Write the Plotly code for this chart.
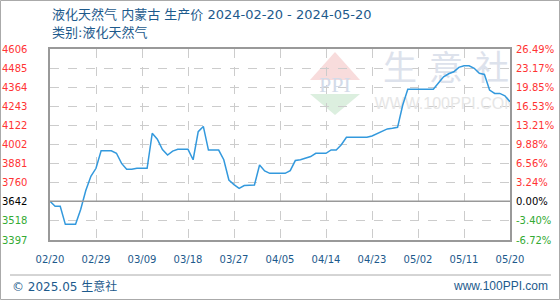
import pandas as pd
import numpy as np
import plotly.graph_objects as go

# ---------------- data ----------------
start_date = "2024-02-20"
end_date = "2024-05-20"
prices = [
    3642, 3610, 3610, 3496, 3496, 3496, 3590, 3710, 3800, 3851,
    3962, 3962, 3962, 3946, 3882, 3845, 3845, 3851, 3851, 3851,
    4072, 4035, 3970, 3935, 3960, 3971, 3971, 3971, 3905, 4083,
    4116, 3966, 3966, 3966, 3905, 3777, 3748, 3724, 3742, 3745,
    3745, 3872, 3834, 3819, 3819, 3819, 3819, 3836, 3900, 3905,
    3914, 3925, 3946, 3946, 3946, 3967, 3967, 4000, 4047, 4047,
    4047, 4047, 4047, 4055, 4070, 4090, 4100, 4104, 4110, 4250,
    4351, 4351, 4351, 4351, 4351, 4351, 4391, 4430, 4449, 4462,
    4490, 4500, 4500, 4484, 4452, 4445, 4346, 4325, 4325, 4310,
    4272,
]
y_tick_labels = ["3397", "3518", "3642", "3760", "3881", "4002",
                 "4122", "4243", "4364", "4485", "4606"]
pct_tick_labels = ["-6.72%", "-3.40%", "0.00%", "3.24%", "6.56%", "9.88%",
                   "13.21%", "16.53%", "19.85%", "23.17%", "26.49%"]
x_tick_step_days = 9
title_line1 = "液化天然气 内蒙古 生产价 2024-02-20 - 2024-05-20"
title_line2 = "类别:液化天然气"
footer_left = "© 2025.05 生意社"
footer_right = "www.100PPI.com"

# ---------------- layout geometry ----------------
W, H = 560, 300
L, R, T, B = 50, 50, 49, 60
PW, PH = W - L - R, H - T - B
y_min, y_max = float(y_tick_labels[0]), float(y_tick_labels[-1])
base_value = prices[0]

dates = pd.date_range(start_date, periods=len(prices), freq="D")
d0 = pd.Timestamp(start_date)
d1 = pd.Timestamp(end_date)
span_days = (d1 - d0).days


def px(xp):
    return (xp - L) / PW


def py(yp):
    return (H - B - yp) / PH


def px_date(xp):
    return d0 + pd.Timedelta(days=(xp - L) / PW * span_days)


def py_val(yp):
    return y_min + (H - B - yp) / PH * (y_max - y_min)


tick_dates = pd.date_range(start_date, end_date, freq=f"{x_tick_step_days}D")
y_tick_pos = np.linspace(y_min, y_max, len(y_tick_labels))

BLUE_TXT = "#1d5a8c"
RED = "#ff3333"
GREEN = "#33aa33"
TITLE_FONT = "DejaVu Sans, Noto Sans CJK SC"

fig = go.Figure()

# watermark text (drawn below the data line)
fig.add_trace(go.Scatter(
    x=[px_date(400), px_date(446), px_date(492)],
    y=[py_val(71)] * 3,
    mode="text", text=["生", "意", "社"],
    textfont=dict(family="Noto Sans CJK SC", size=34, color="#dde2ec"),
    hoverinfo="skip", showlegend=False,
))
fig.add_trace(go.Scatter(
    x=[px_date(446)], y=[py_val(105)],
    mode="text", text=["WWW.100PPI.COM"],
    textfont=dict(family="Liberation Sans Narrow, Liberation Sans", size=16, color="#e6e6e6"),
    hoverinfo="skip", showlegend=False,
))
fig.add_trace(go.Scatter(
    x=[px_date(335)], y=[py_val(86)],
    mode="text", text=["PPI"],
    textfont=dict(family="Liberation Serif", size=22, color="#d3dbe9"),
    hoverinfo="skip", showlegend=False,
))

# data line
fig.add_trace(go.Scatter(
    x=dates, y=prices, mode="lines",
    line=dict(color="#3399dd", width=1.5),
    showlegend=False,
))

shapes = []
# logo triangles
shapes.append(dict(type="path", xref="paper", yref="paper", layer="below",
                   path=f"M {px(335)} {py(52)} L {px(310)} {py(80)} L {px(360)} {py(80)} Z",
                   fillcolor="#f8dcdc", line=dict(width=0)))
shapes.append(dict(type="path", xref="paper", yref="paper", layer="below",
                   path=f"M {px(310)} {py(94)} L {px(360)} {py(94)} L {px(335)} {py(115)} Z",
                   fillcolor="#dcefdf", line=dict(width=0)))
# base line at 0%
shapes.append(dict(type="line", xref="paper", yref="y", x0=0, x1=1,
                   y0=base_value, y1=base_value,
                   line=dict(color="#999999", width=1.5)))
# footer separator
shapes.append(dict(type="line", xref="paper", yref="paper",
                   x0=px(10), x1=px(551), y0=py(275), y1=py(275),
                   line=dict(color="#aaaaaa", width=1)))
# outer frame
for (xa, ya, xb, yb) in [(0.5, 0.5, 0.5, 299.5), (559.5, 0.5, 559.5, 299.5),
                         (0.5, 299.5, 559.5, 299.5), (0.5, 0.5, 559.5, 0.5)]:
    shapes.append(dict(type="line", xref="paper", yref="paper",
                       x0=px(xa), y0=py(ya), x1=px(xb), y1=py(yb),
                       line=dict(color="#aaaaaa", width=1)))

annotations = []
for pos, lab, pct in zip(y_tick_pos, y_tick_labels, pct_tick_labels):
    v = float(lab)
    col = "#000000" if v == base_value else (RED if v > base_value else GREEN)
    annotations.append(dict(xref="paper", yref="y", x=0, y=pos, text=lab,
                            xanchor="right", yanchor="middle", xshift=-21,
                            showarrow=False,
                            font=dict(family="DejaVu Sans", size=10, color=col)))
    annotations.append(dict(xref="paper", yref="y", x=1, y=pos, text=pct,
                            xanchor="left", yanchor="middle", xshift=4,
                            showarrow=False,
                            font=dict(family="DejaVu Sans", size=10, color=col)))

annotations += [
    dict(xref="paper", yref="paper", x=px(50), y=py(15), text=title_line1,
         xanchor="left", yanchor="middle", showarrow=False,
         font=dict(family=TITLE_FONT, size=13, color=BLUE_TXT)),
    dict(xref="paper", yref="paper", x=px(50), y=py(32.5), text=title_line2,
         xanchor="left", yanchor="middle", showarrow=False,
         font=dict(family=TITLE_FONT, size=13, color=BLUE_TXT)),
    dict(xref="paper", yref="paper", x=px(10), y=py(286), text=footer_left,
         xanchor="left", yanchor="middle", showarrow=False,
         font=dict(family="DejaVu Sans, Noto Sans CJK SC", size=12, color=BLUE_TXT)),
    dict(xref="paper", yref="paper", x=px(550), y=py(286), text=footer_right,
         xanchor="right", yanchor="middle", showarrow=False,
         font=dict(family="Liberation Sans", size=12, color=BLUE_TXT)),
]

fig.update_layout(
    width=W, height=H,
    margin=dict(l=L, r=R, t=T, b=B, pad=0),
    paper_bgcolor="white", plot_bgcolor="white",
    shapes=shapes, annotations=annotations,
    showlegend=False,
    xaxis=dict(
        type="date", range=[d0, d1],
        tickvals=tick_dates, ticktext=[d.strftime("%m/%d") for d in tick_dates],
        tickfont=dict(family="DejaVu Sans", size=10, color=BLUE_TXT),
        ticks="", ticklabelstandoff=9,
        showgrid=True, gridcolor="#cccccc", griddash="dash", gridwidth=1,
        showline=True, linecolor="#999999", linewidth=1.5, mirror=True,
        zeroline=False, fixedrange=True,
    ),
    yaxis=dict(
        range=[y_min, y_max],
        tickvals=y_tick_pos, showticklabels=False, ticks="",
        showgrid=True, gridcolor="#cccccc", griddash="dash", gridwidth=1,
        showline=True, linecolor="#999999", linewidth=1.5, mirror=True,
        zeroline=False, fixedrange=True,
    ),
)

fig.write_html("out.html")
